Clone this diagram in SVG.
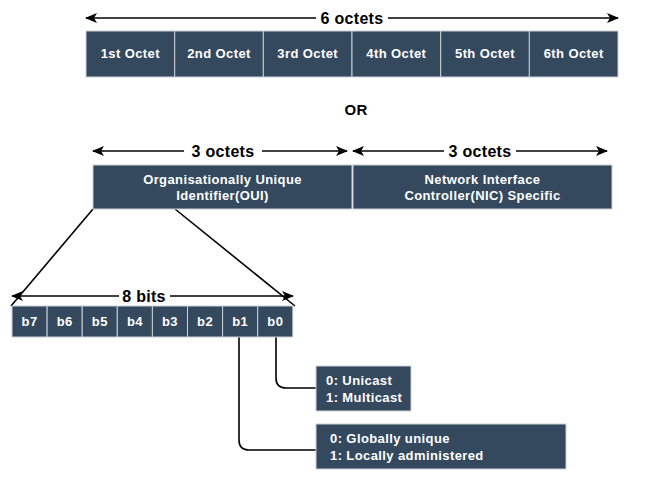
<svg xmlns="http://www.w3.org/2000/svg" width="650" height="479" viewBox="0 0 650 479">
<defs>
<style>
.box{fill:#34495e;stroke:#c9d0d8;stroke-width:1}
.bt{font-family:"Liberation Sans",Arial,sans-serif;font-size:13px;font-weight:bold;fill:#ffffff;text-anchor:middle;letter-spacing:0.4px}
.bl{font-family:"Liberation Sans",Arial,sans-serif;font-size:13px;font-weight:bold;fill:#ffffff;letter-spacing:0.4px}
.lbl{font-family:"Liberation Sans",Arial,sans-serif;font-size:16px;font-weight:bold;fill:#000000;text-anchor:middle;letter-spacing:0.3px}
.ln{stroke:#000;stroke-width:1.6;fill:none}
.ar{stroke:#000;stroke-width:1.6;fill:none;marker-end:url(#ah)}
</style>
<marker id="ah" viewBox="0 0 12 10" refX="11" refY="5" markerWidth="12" markerHeight="10" markerUnits="userSpaceOnUse" orient="auto">
<path d="M0,0 L12,5 L0,10 L3,5 z" fill="#000"/>
</marker>
</defs>

<g id="connectors">
<line class="ar" x1="316" y1="18" x2="86" y2="18"/>
<line class="ar" x1="388" y1="18" x2="618" y2="18"/>
<line class="ar" x1="184" y1="151" x2="93" y2="151"/>
<line class="ar" x1="262" y1="151" x2="347" y2="151"/>
<line class="ar" x1="444" y1="151" x2="353" y2="151"/>
<line class="ar" x1="516" y1="151" x2="607" y2="151"/>
<line class="ln" x1="93" y1="209" x2="11" y2="306"/>
<line class="ln" x1="175" y1="209" x2="295" y2="306"/>
<line class="ar" x1="119" y1="296" x2="12" y2="296"/>
<line class="ar" x1="170" y1="296" x2="293" y2="296"/>
<path class="ln" d="M276,337 V378 Q276,388 286,388 H316"/>
<path class="ln" d="M239,337 V440 Q239,450 249,450 H316"/>
</g>

<g id="labels">
<text class="lbl" x="352" y="24">6 octets</text>
<text class="lbl" x="356" y="115" style="font-size:15px">OR</text>
<text class="lbl" x="223" y="157">3 octets</text>
<text class="lbl" x="480" y="157">3 octets</text>
<text class="lbl" x="144" y="302">8 bits</text>
</g>

<g id="octets">
<g id="octet1"><rect class="box" x="86" y="31" width="88.7" height="46"/><text class="bt" x="130.3" y="58">1st Octet</text></g>
<g id="octet2"><rect class="box" x="174.7" y="31" width="88.7" height="46"/><text class="bt" x="219" y="58">2nd Octet</text></g>
<g id="octet3"><rect class="box" x="263.3" y="31" width="88.7" height="46"/><text class="bt" x="307.7" y="58">3rd Octet</text></g>
<g id="octet4"><rect class="box" x="352" y="31" width="88.7" height="46"/><text class="bt" x="396.3" y="58">4th Octet</text></g>
<g id="octet5"><rect class="box" x="440.7" y="31" width="88.7" height="46"/><text class="bt" x="485" y="58">5th Octet</text></g>
<g id="octet6"><rect class="box" x="529.3" y="31" width="88.7" height="46"/><text class="bt" x="573.7" y="58">6th Octet</text></g>
</g>

<g id="oui">
<rect class="box" x="93" y="165" width="259" height="44"/>
<text class="bt" x="222.5" y="184">Organisationally Unique</text>
<text class="bt" x="222.5" y="200">Identifier(OUI)</text>
</g>
<g id="nic">
<rect class="box" x="353" y="165" width="259" height="44"/>
<text class="bt" x="482.5" y="184">Network Interface</text>
<text class="bt" x="482.5" y="200">Controller(NIC) Specific</text>
</g>

<g id="bits">
<g id="b7"><rect class="box" x="12" y="306" width="35.1" height="31"/><text class="bt" x="29.6" y="326">b7</text></g>
<g id="b6"><rect class="box" x="47.1" y="306" width="35.1" height="31"/><text class="bt" x="64.7" y="326">b6</text></g>
<g id="b5"><rect class="box" x="82.2" y="306" width="35.1" height="31"/><text class="bt" x="99.8" y="326">b5</text></g>
<g id="b4"><rect class="box" x="117.3" y="306" width="35.1" height="31"/><text class="bt" x="134.9" y="326">b4</text></g>
<g id="b3"><rect class="box" x="152.4" y="306" width="35.1" height="31"/><text class="bt" x="170" y="326">b3</text></g>
<g id="b2"><rect class="box" x="187.5" y="306" width="35.1" height="31"/><text class="bt" x="205.1" y="326">b2</text></g>
<g id="b1"><rect class="box" x="222.6" y="306" width="35.1" height="31"/><text class="bt" x="240.2" y="326">b1</text></g>
<g id="b0"><rect class="box" x="257.7" y="306" width="35.1" height="31"/><text class="bt" x="275.3" y="326">b0</text></g>
</g>

<g id="cast">
<rect class="box" x="316" y="366" width="95" height="45"/>
<text class="bl" x="326" y="385">0: Unicast</text>
<text class="bl" x="326" y="402">1: Multicast</text>
</g>
<g id="admin">
<rect class="box" x="316" y="424" width="250" height="45"/>
<text class="bl" x="330" y="443">0: Globally unique</text>
<text class="bl" x="330" y="460">1: Locally administered</text>
</g>
</svg>
